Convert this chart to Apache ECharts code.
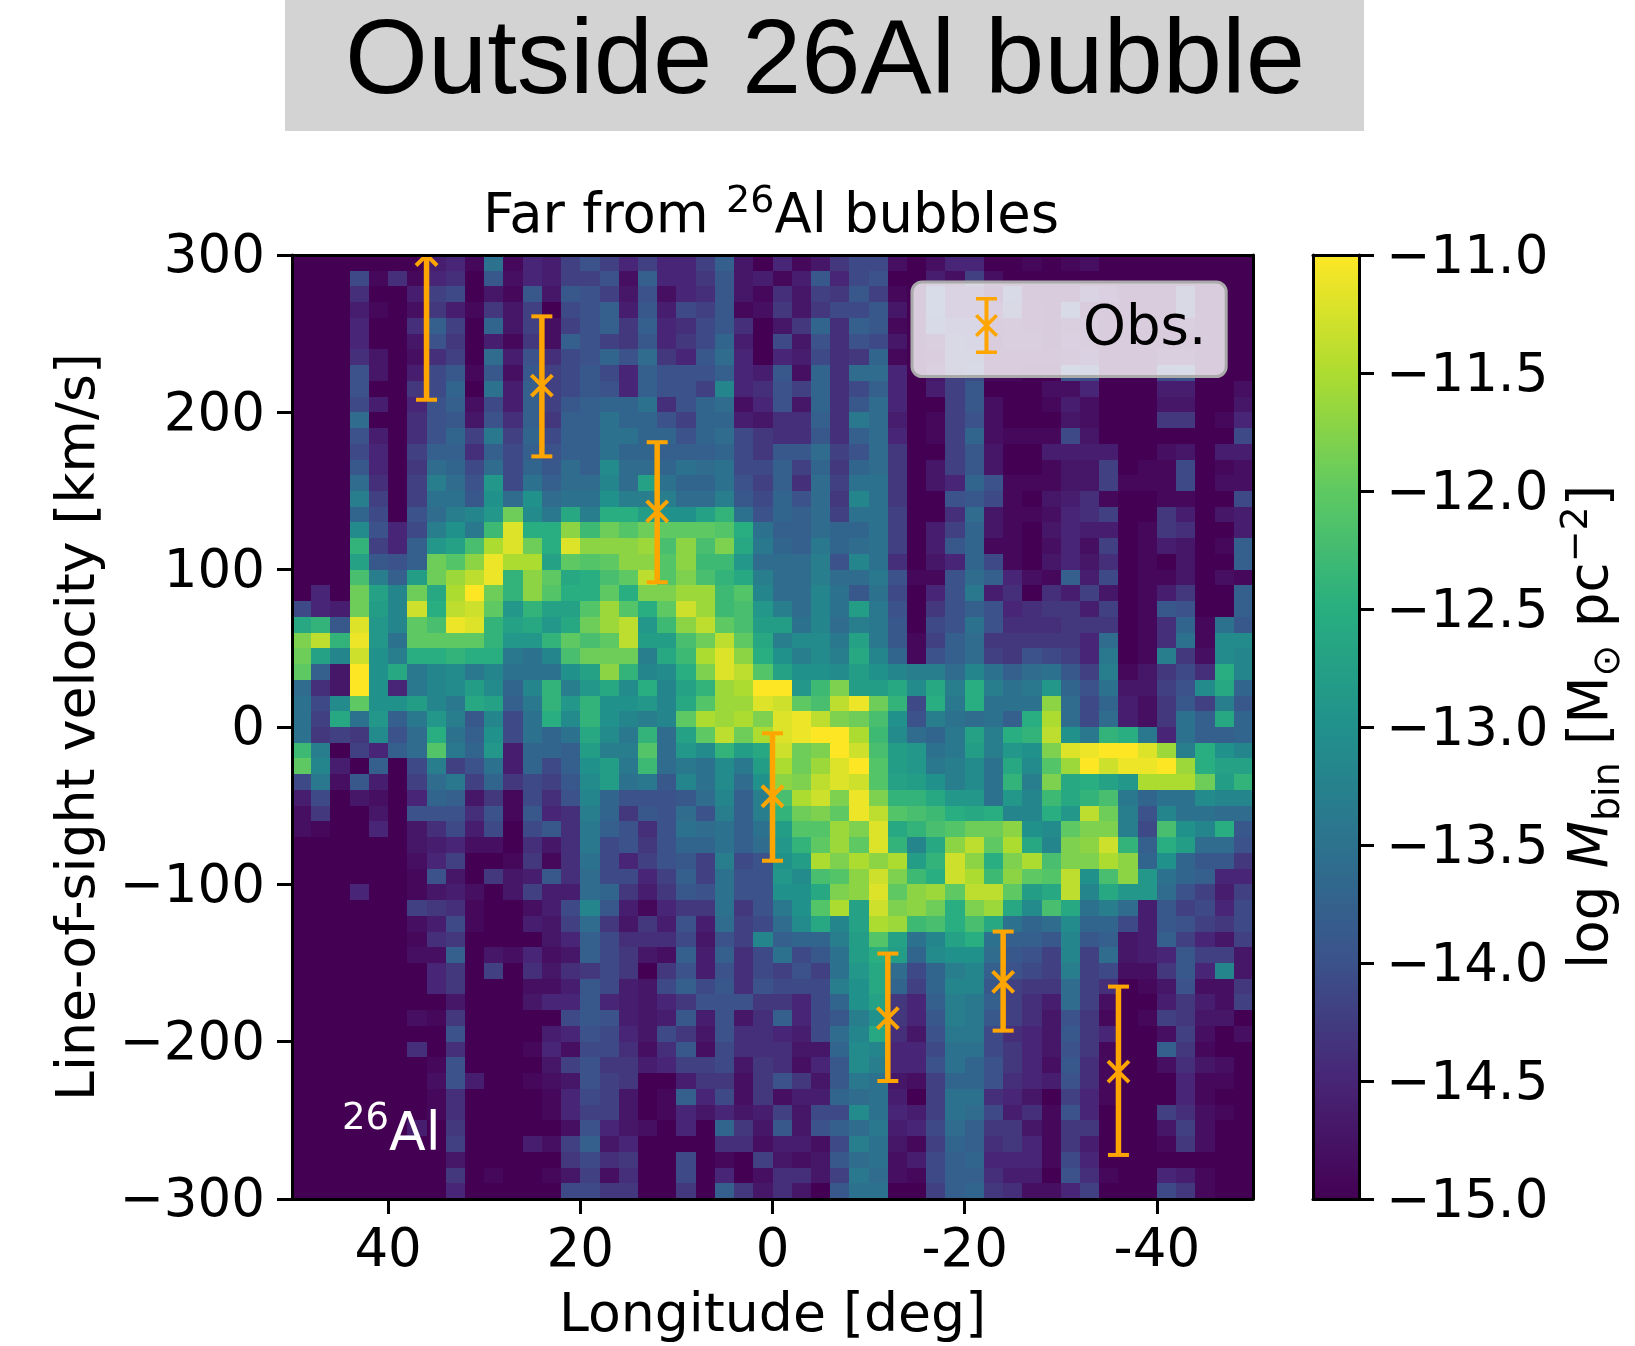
<!DOCTYPE html>
<html><head><meta charset="utf-8">
<style>html,body{margin:0;padding:0;background:#fff}#c{width:1635px;height:1346px}</style>
<script src="https://cdn.jsdelivr.net/npm/echarts@6/dist/echarts.min.js"></script>
</head><body><div id="c"></div>
<script>
// Cell values: tenths of a dex above the colour floor (-15). Rows run from +300 km/s down, columns from +50 deg to -50 deg.
const r00=[0,0,0,0,0,0,0,4,5,1,15,1,5,4,8,10,8,5,8,5,5,8,12,3,0,5,1,3,7,9,9,2,0,2,5,5,0,0,1,0,1,2,0,0,0,0,0,0,0,0];
const r01=[0,0,0,9,1,6,1,5,6,0,11,2,5,4,8,8,10,2,12,5,5,7,11,3,4,1,4,11,5,9,10,0,0,4,2,8,2,0,0,0,0,0,0,0,0,0,0,0,0,0];
const r02=[0,0,0,6,0,0,4,8,9,0,3,1,11,3,11,10,8,3,10,2,5,6,11,3,1,6,3,8,7,11,8,1,0,10,5,5,0,9,0,0,0,5,3,0,0,0,8,0,0,0];
const r03=[0,0,0,4,1,0,2,7,4,1,7,3,8,0,9,10,12,4,11,4,9,8,11,1,2,7,3,7,9,9,11,3,0,10,5,5,3,8,1,0,9,0,0,0,0,0,8,0,0,0];
const r04=[0,0,0,5,0,0,6,12,8,0,13,3,8,2,8,10,12,7,12,5,6,9,11,6,0,3,7,13,6,12,11,1,0,9,7,7,1,2,1,0,2,2,0,0,0,0,2,0,0,0];
const r05=[0,0,0,5,0,0,3,10,7,0,4,1,7,2,12,10,8,7,11,5,7,9,13,4,0,9,3,10,6,10,9,3,0,2,8,7,0,2,2,0,3,2,0,0,0,0,0,0,0,0];
const r06=[0,0,0,6,3,0,2,6,8,0,14,4,10,6,9,10,13,10,14,7,5,11,14,5,0,5,4,9,6,7,13,1,0,1,8,8,1,1,1,1,2,4,0,0,0,2,2,0,0,0];
const r07=[0,0,0,10,3,0,4,9,11,1,11,2,11,8,9,11,9,5,12,10,10,10,12,5,4,11,2,13,6,14,14,5,0,3,8,9,1,1,0,0,10,9,0,0,0,9,10,0,0,0];
const r08=[0,0,0,10,0,0,7,9,13,0,15,4,12,8,9,11,10,5,12,10,10,8,18,5,6,10,8,13,6,9,12,5,0,4,8,11,0,0,0,2,2,5,0,0,0,4,4,0,0,2];
const r09=[0,0,0,9,4,0,5,10,12,2,9,4,12,8,11,12,13,13,15,6,10,13,14,2,5,10,3,13,6,11,14,5,0,0,8,11,2,0,0,1,4,2,0,0,0,3,3,0,0,3];
const r10=[0,0,0,14,0,0,6,10,11,3,10,6,12,7,12,12,15,13,13,10,8,13,13,4,3,6,6,12,6,16,14,4,0,1,8,10,2,0,0,0,3,2,0,0,0,7,7,0,1,5];
const r11=[0,0,0,10,4,0,6,10,13,8,16,8,13,9,12,12,15,15,13,13,10,13,14,9,7,6,6,11,6,12,14,5,0,1,8,13,2,1,1,1,9,3,0,0,0,0,0,0,0,9];
const r12=[0,0,0,9,5,0,8,12,12,6,12,9,12,10,12,12,15,13,13,12,12,12,13,9,7,11,11,14,8,10,14,7,0,0,8,11,3,0,0,4,4,4,4,0,0,2,3,0,4,4];
const r13=[0,0,0,11,5,0,7,14,13,9,14,9,13,11,14,12,19,14,14,13,15,14,15,9,9,12,8,13,7,13,14,7,0,3,8,11,3,0,0,1,3,3,8,0,1,1,9,0,1,2];
const r14=[0,0,0,14,6,0,8,17,14,10,21,9,15,12,14,14,18,14,23,15,13,13,15,10,8,12,6,14,8,15,15,7,0,3,5,13,10,1,1,1,3,3,8,1,1,1,9,0,2,2];
const r15=[0,0,0,17,8,0,8,15,15,11,20,14,20,14,15,15,20,17,17,17,14,14,17,11,9,13,10,14,7,18,15,7,0,0,10,11,9,1,0,3,4,6,1,0,0,1,1,0,0,9];
const r16=[0,0,0,13,9,0,10,14,17,18,21,31,19,16,24,17,25,25,22,20,20,23,26,15,10,13,12,14,8,15,15,8,0,0,6,14,3,1,1,2,5,6,8,0,0,7,4,0,3,4];
const r17=[0,0,0,19,10,5,9,17,20,16,27,38,25,25,33,27,31,29,31,30,30,30,29,25,15,12,12,14,13,13,15,8,0,4,8,13,3,1,0,3,5,4,4,0,1,7,6,0,0,4];
const r18=[0,0,0,26,8,5,12,21,23,28,35,38,31,25,38,33,33,33,34,28,33,28,32,24,16,13,12,16,13,14,15,8,0,4,11,13,1,1,0,2,5,2,8,0,1,4,3,0,1,12];
const r19=[0,0,0,23,11,10,12,31,29,33,39,35,35,23,30,29,30,33,33,29,33,27,27,21,14,14,14,17,10,18,15,6,0,3,5,13,9,1,0,3,5,3,6,0,1,0,3,0,0,12];
const r20=[0,0,0,28,17,12,22,31,34,36,39,26,33,30,24,25,28,30,36,29,32,28,26,24,17,14,14,17,14,14,16,10,1,1,10,14,12,5,2,1,12,4,9,0,1,1,3,0,2,1];
const r21=[0,5,0,31,23,18,31,24,35,40,31,26,33,29,25,25,30,25,32,32,34,34,27,29,18,14,14,18,15,11,15,9,0,5,10,16,4,6,0,6,4,8,3,0,1,4,7,0,0,12];
const r22=[9,5,4,31,22,18,37,25,36,37,30,21,26,23,23,29,34,29,25,30,37,34,27,28,21,17,14,18,15,22,16,10,0,7,10,12,10,5,6,7,7,4,8,0,1,11,10,0,0,12];
const r23=[24,26,11,38,21,18,30,28,39,38,26,23,24,21,24,31,34,36,21,27,33,36,30,28,22,22,15,18,14,17,16,11,0,9,10,15,10,6,6,6,7,7,7,0,1,6,13,1,15,11];
const r24=[32,36,26,39,21,15,30,30,30,30,26,21,21,26,30,28,30,36,22,22,28,31,36,30,24,17,19,19,16,23,16,11,1,8,12,14,7,7,7,7,7,5,14,0,1,6,15,1,19,19];
const r25=[31,23,18,37,20,17,25,25,26,25,25,16,15,18,28,31,31,31,17,24,27,35,38,33,25,20,17,19,17,24,18,13,1,10,12,14,8,7,10,9,8,5,16,0,1,17,7,2,19,18];
const r26=[30,12,3,40,20,24,16,18,19,16,18,15,15,15,20,23,33,26,18,19,25,32,38,36,29,23,20,20,19,22,20,18,17,17,14,18,15,12,14,15,11,8,17,1,3,7,9,6,25,18];
const r27=[14,6,3,40,20,5,16,18,19,22,19,13,18,26,17,21,24,19,25,18,23,26,34,35,40,40,21,27,32,22,22,24,19,24,17,25,17,15,16,21,13,10,15,3,3,8,10,19,24,13];
const r28=[15,9,19,30,20,20,22,18,16,24,23,12,16,26,21,26,20,20,21,18,24,29,34,34,38,37,30,28,36,39,31,26,9,25,16,25,15,15,15,33,14,9,13,4,2,7,11,8,17,11];
const r29=[15,8,24,15,21,12,16,21,17,11,18,9,15,25,19,26,20,18,17,18,30,35,34,35,32,38,39,36,32,31,28,20,10,17,15,14,15,12,25,35,14,9,14,4,2,7,15,12,24,13];
const r30=[15,7,8,7,19,10,14,25,15,12,20,9,15,13,15,24,19,16,26,14,23,30,36,31,35,38,39,40,40,35,27,19,14,13,16,23,17,25,26,36,20,16,26,25,16,5,15,12,12,13];
const r31=[27,17,0,8,5,12,14,29,16,13,21,4,13,13,12,22,17,17,29,14,21,19,26,22,24,37,31,32,40,37,28,22,21,15,16,22,17,21,20,32,38,39,40,40,38,34,17,25,20,18];
const r32=[30,18,4,0,12,0,9,17,8,10,15,4,13,9,12,20,22,16,27,14,16,15,19,16,22,35,31,34,38,40,29,22,21,16,17,19,15,24,19,29,34,40,37,39,39,40,34,25,23,23];
const r33=[9,16,2,11,4,0,8,14,16,8,13,7,9,8,11,19,22,15,16,11,18,15,19,14,20,33,32,36,38,37,29,23,22,20,17,19,15,26,17,32,24,25,23,21,35,35,35,31,22,26];
const r34=[4,9,0,3,2,0,5,13,12,3,7,1,9,6,10,18,13,10,10,10,11,14,18,12,17,28,35,37,32,39,32,26,26,24,21,21,15,21,18,27,24,26,28,16,13,15,15,19,18,18];
const r35=[2,7,0,0,3,0,10,10,10,6,10,1,11,5,6,17,13,7,11,10,14,10,17,12,17,26,31,32,30,39,36,29,28,27,25,24,25,18,18,25,21,36,31,17,10,18,15,15,14,14];
const r36=[2,1,0,0,5,0,3,6,9,4,9,0,9,11,6,16,12,10,6,10,15,14,15,12,15,22,29,29,34,32,38,24,26,28,29,31,31,33,20,19,30,32,32,17,9,28,20,18,25,11];
const r37=[0,0,0,0,0,0,3,4,5,2,2,0,6,3,6,16,9,10,7,10,13,13,15,12,14,21,26,30,34,30,38,26,18,24,33,36,30,35,24,18,32,33,37,26,12,25,22,14,14,10];
const r38=[0,0,0,0,0,0,2,5,8,0,0,1,7,1,6,15,9,5,8,10,11,8,17,9,10,20,22,35,32,35,33,35,22,26,37,33,25,32,35,28,32,32,35,33,13,20,13,11,11,7];
const r39=[0,0,0,0,0,0,1,10,3,0,7,3,4,11,6,14,9,9,5,8,12,8,15,10,10,21,19,28,29,33,37,32,27,25,37,35,27,33,30,29,36,20,28,33,21,15,13,12,5,5];
const r40=[0,0,0,5,0,0,1,3,4,2,0,3,8,4,4,14,13,7,4,7,11,10,15,10,10,20,20,24,32,33,38,30,33,34,30,36,36,30,22,24,36,18,24,21,21,14,10,8,4,8];
const r41=[0,0,0,0,0,0,8,7,6,1,0,0,2,4,9,18,11,4,1,5,7,7,15,7,10,16,20,29,35,23,37,32,33,31,25,32,34,24,19,28,24,15,17,14,4,11,8,9,5,9];
const r42=[0,0,0,0,0,0,2,4,9,1,0,0,4,3,8,14,7,3,7,4,10,4,14,8,9,14,19,24,18,23,35,34,27,28,25,28,24,15,13,14,19,13,13,9,4,11,10,8,7,9];
const r43=[0,0,0,0,0,0,1,6,7,0,0,0,0,3,5,12,9,6,6,6,9,3,10,8,18,12,13,13,17,22,29,23,15,18,23,25,15,12,12,11,18,11,12,3,4,12,8,5,3,8];
const r44=[0,0,0,0,0,0,2,2,12,0,3,2,5,2,3,12,9,7,3,2,12,4,12,6,9,15,9,11,15,22,25,22,13,19,20,20,14,11,10,8,18,8,14,3,4,5,11,8,8,3];
const r45=[0,0,0,0,0,0,0,5,7,0,8,0,6,3,6,7,9,7,0,7,10,4,10,6,9,8,10,8,15,21,24,14,9,13,17,18,12,10,9,8,17,8,9,2,2,7,11,5,18,3];
const r46=[0,0,0,0,0,0,0,5,7,0,0,0,2,2,4,11,9,4,3,9,12,9,11,6,10,9,9,9,17,20,24,13,8,13,18,18,11,8,7,7,14,8,6,0,1,3,10,2,2,7];
const r47=[0,0,0,0,0,0,0,0,3,0,0,0,3,5,5,11,5,4,3,5,7,10,10,10,7,7,5,9,13,20,23,7,5,12,17,16,12,8,6,4,14,8,2,0,0,4,7,4,2,8];
const r48=[0,0,0,0,0,0,2,1,7,0,0,0,0,0,9,11,10,4,3,4,11,4,10,3,6,12,5,9,11,17,20,7,5,11,17,16,11,8,6,3,10,7,1,0,1,8,7,3,3,0];
const r49=[0,0,0,0,0,0,0,0,10,0,0,0,0,4,5,10,9,5,3,9,7,3,10,6,6,5,4,9,14,18,24,6,3,10,16,16,9,6,5,3,11,7,5,0,0,2,8,2,0,2];
const r50=[0,0,0,0,0,0,6,0,6,0,0,0,1,5,2,9,9,6,2,6,11,2,9,6,6,6,3,3,13,19,18,5,5,9,15,15,9,7,5,3,10,7,1,0,0,12,7,1,0,0];
const r51=[0,0,0,0,0,0,0,1,10,0,0,0,0,3,8,10,7,7,4,5,8,8,9,3,7,6,2,5,11,19,17,5,5,10,15,13,10,7,5,2,11,6,1,0,0,2,6,3,2,0];
const r52=[0,0,0,0,0,0,0,2,10,4,0,0,1,2,3,10,8,7,0,0,4,7,7,2,7,10,7,3,11,16,15,3,2,8,13,13,10,6,5,4,10,6,1,0,0,0,5,1,1,0];
const r53=[0,0,0,0,0,0,0,1,6,0,0,0,0,1,5,9,8,3,0,1,12,5,9,2,7,2,4,4,13,14,15,4,0,8,15,15,6,5,3,0,8,5,1,0,0,0,5,1,0,0];
const r54=[0,0,0,0,0,0,0,1,6,0,0,0,0,1,5,8,8,3,0,1,5,3,5,3,4,8,3,9,9,19,15,5,4,8,15,14,9,4,6,1,10,5,0,0,0,8,6,2,1,0];
const r55=[0,0,0,0,0,0,4,0,7,0,0,0,0,0,2,10,5,3,2,0,5,0,13,7,3,11,3,10,12,14,16,4,5,9,14,12,7,7,3,1,7,7,0,0,0,3,8,2,0,0];
const r56=[0,0,0,0,0,0,0,0,8,0,0,0,4,2,8,12,3,5,0,0,0,0,6,6,2,4,4,2,9,17,15,3,1,8,13,12,6,7,5,1,7,4,0,0,0,1,7,2,0,0];
const r57=[0,0,0,0,0,0,0,0,3,0,0,0,0,0,7,9,6,7,0,0,9,0,1,0,8,3,2,3,11,14,15,2,4,9,12,13,5,5,5,1,9,5,0,0,0,0,0,0,0,0];
const r58=[0,0,0,0,0,0,0,0,7,0,1,0,0,1,3,8,2,6,0,0,9,0,5,0,2,6,6,3,8,16,14,2,1,9,12,12,6,4,4,0,10,6,1,0,0,5,4,1,0,0];
const r59=[0,0,0,0,0,0,0,0,5,0,0,0,0,0,9,9,7,7,0,0,7,0,12,7,3,6,3,0,11,15,15,0,0,8,12,13,7,6,2,2,5,8,0,0,0,9,7,1,0,0];

const obsLon =[36,24,12,0,-12,-24,-36];
const obsMean=[300,217,137,-44,-185,-162,-219];
const obsLow =[208,172,92,-85,-225,-193,-272];
const obsHigh=[392,261,181,-4,-144,-130,-165];

const lonTicks=[40,20,0,-20,-40];
const viridis=['#440154','#482576','#3b528b','#2c728e','#21918c','#28ae80','#5ec962','#addc30','#fde725'];

const rows=[r00,r01,r02,r03,r04,r05,r06,r07,r08,r09,r10,r11,r12,r13,r14,r15,r16,r17,r18,r19,r20,r21,r22,r23,r24,r25,r26,r27,r28,r29,r30,r31,r32,r33,r34,r35,r36,r37,r38,r39,r40,r41,r42,r43,r44,r45,r46,r47,r48,r49,r50,r51,r52,r53,r54,r55,r56,r57,r58,r59];
const cells=[];
rows.forEach((row,j)=>row.forEach((lv,i)=>cells.push([49-2*i,295-10*j,-15+lv/10])));
const obsData=obsLon.map((l,i)=>[l,obsMean[i],obsLow[i],obsHigh[i]]);

const FONT='DejaVu Sans', FS=53, NFS=53.7, ORANGE='#ffa500';
const minus=v=>String(v).replace('-','\u2212');
const spine={show:true,onZero:false,lineStyle:{color:'#000',width:3}};
const tick={show:true,length:15,inside:false,lineStyle:{color:'#000',width:3}};
const lab={color:'#000',fontFamily:FONT,fontSize:FS};
const nm={color:'#000',fontFamily:FONT,fontSize:NFS,fontWeight:'normal'};

function cellItem(p,api){
  const lon=api.value(0),vel=api.value(1);
  const a=api.coord([lon+1,vel+5]),b=api.coord([lon-1,vel-5]);
  const x0=Math.round(a[0]),y0=Math.round(a[1]),x1=Math.round(b[0]),y1=Math.round(b[1]);
  return {type:'rect',shape:{x:x0,y:y0,width:x1-x0,height:y1-y0},style:{fill:api.visual('color')}};
}
function errItem(p,api){
  const lon=api.value(0),m=api.coord([lon,api.value(1)]),lo=api.coord([lon,api.value(2)]),hi=api.coord([lon,api.value(3)]);
  const x=m[0],cap=10.5,xs=10.5;
  const st=w=>({stroke:ORANGE,lineWidth:w,fill:null});
  return {type:'group',children:[
    {type:'line',shape:{x1:x,y1:lo[1],x2:x,y2:hi[1]},style:st(5.5)},
    {type:'line',shape:{x1:x-cap,y1:lo[1],x2:x+cap,y2:lo[1]},style:st(4)},
    {type:'line',shape:{x1:x-cap,y1:hi[1],x2:x+cap,y2:hi[1]},style:st(4)},
    {type:'line',shape:{x1:x-xs,y1:m[1]-xs,x2:x+xs,y2:m[1]+xs},style:st(4)},
    {type:'line',shape:{x1:x-xs,y1:m[1]+xs,x2:x+xs,y2:m[1]-xs},style:st(4)}
  ]};
}
const icon='path://M1 0H22V3.5H1ZM9.5 3.5H13.5V53.5H9.5ZM1 53.5H22V57H1ZM2.5 17L23 37.5L20.5 40L0 19.5ZM20.5 17L23 19.5L2.5 40L0 37.5Z';
const supRich={b:{fontFamily:FONT,fontSize:54.4,fontWeight:'normal',color:'#000',lineHeight:66,verticalAlign:'bottom'},s:{fontFamily:FONT,fontSize:38,fontWeight:'normal',color:'#000',lineHeight:66,verticalAlign:'top',padding:[4,0,0,0]}};

const option={
  animation:false,
  backgroundColor:'#fff',
  title:[
    {text:'Outside 26Al bubble',left:820,top:5,textAlign:'center',textStyle:{fontFamily:'Liberation Sans',fontSize:106.6,fontWeight:'normal',color:'#000'}},
    {text:'{b|Far from }{s|26}{b|Al bubbles}',left:766,top:174,textAlign:'center',textStyle:{fontWeight:'normal',rich:supRich}}
  ],
  graphic:[
    {type:'rect',z:-1,left:285,top:0,shape:{width:1079,height:131},style:{fill:'#d3d3d3'}},
    {type:'text',z:20,left:342,top:1097,style:{text:'{s|26}{b|Al}',fill:'#fff',rich:{
      b:{fontFamily:FONT,fontSize:NFS,fill:'#fff',lineHeight:66,verticalAlign:'bottom'},
      s:{fontFamily:FONT,fontSize:37,fill:'#fff',lineHeight:66,verticalAlign:'top',padding:[4,0,0,0]}}}}
  ],
  legend:{
    show:true,left:912,top:282,padding:[15,20,19,63],orient:'horizontal',
    data:[{name:'Obs.',icon:icon}],itemWidth:23,itemHeight:57,selectedMode:false,
    backgroundColor:'rgba(255,255,255,0.8)',borderColor:'#aaa',borderWidth:3,borderRadius:10,
    formatter:n=>'{a|'+n+'}',
    textStyle:{padding:[0,0,0,80],rich:{a:{fontFamily:FONT,fontSize:54.5,color:'#000',padding:[9,0,0,0]}}},z:15
  },
  grid:[
    {left:292,top:255,width:961,height:944,outerBoundsMode:'none'},
    {left:1313,top:255,width:46,height:944,outerBoundsMode:'none'}
  ],
  xAxis:[
    {type:'value',gridIndex:0,min:-50,max:50,inverse:true,position:'bottom',z:10,splitLine:{show:false},axisLine:spine,
     axisTick:Object.assign({},tick,{customValues:lonTicks}),
     axisLabel:Object.assign({},lab,{margin:27,customValues:lonTicks,showMinLabel:true,showMaxLabel:true}),
     name:'Longitude [deg]',nameLocation:'middle',nameGap:91,nameTextStyle:nm},
    {type:'value',gridIndex:0,min:-50,max:50,inverse:true,position:'top',z:10,splitLine:{show:false},axisLine:spine,axisTick:{show:false},axisLabel:{show:false}},
    {type:'value',gridIndex:1,min:0,max:1,position:'bottom',z:10,splitLine:{show:false},axisLine:spine,axisTick:{show:false},axisLabel:{show:false}},
    {type:'value',gridIndex:1,min:0,max:1,position:'top',z:10,splitLine:{show:false},axisLine:spine,axisTick:{show:false},axisLabel:{show:false}}
  ],
  yAxis:[
    {type:'value',gridIndex:0,min:-300,max:300,interval:100,position:'left',z:10,splitLine:{show:false},axisLine:spine,axisTick:tick,
     axisLabel:{margin:27,formatter:v=>'{a|'+minus(v)+'}',showMinLabel:true,showMaxLabel:true,rich:{a:Object.assign({},lab,{padding:[7,0,0,0]})}},
     name:'Line-of-sight velocity [km/s]',nameLocation:'middle',nameGap:185,nameRotate:90,nameTextStyle:nm},
    {type:'value',gridIndex:0,min:-300,max:300,position:'right',z:10,splitLine:{show:false},axisLine:spine,axisTick:{show:false},axisLabel:{show:false}},
    {type:'value',gridIndex:1,min:-15,max:-11,interval:0.5,position:'right',z:10,splitLine:{show:false},axisLine:spine,axisTick:tick,
     axisLabel:{margin:27,formatter:v=>'{a|'+minus(v.toFixed(1))+'}',showMinLabel:true,showMaxLabel:true,rich:{a:Object.assign({},lab,{padding:[9,0,0,0]})}},
     name:'{b|log }{i|M}{d|bin}{b| [M}{d|\u2299}{b| pc}{u|\u22122}{b|]}',nameLocation:'middle',nameGap:199,nameRotate:90,
     nameTextStyle:{rich:{
       b:{fontFamily:FONT,fontSize:54.7,color:'#000',lineHeight:70,verticalAlign:'middle'},
       i:{fontFamily:FONT,fontStyle:'italic',fontSize:54.7,color:'#000',lineHeight:70,verticalAlign:'middle'},
       d:{fontFamily:FONT,fontSize:38,color:'#000',lineHeight:70,verticalAlign:'bottom'},
       u:{fontFamily:FONT,fontSize:38,color:'#000',lineHeight:70,verticalAlign:'top'}}}},
    {type:'value',gridIndex:1,min:-15,max:-11,position:'left',z:10,splitLine:{show:false},axisLine:spine,axisTick:{show:false},axisLabel:{show:false}}
  ],
  visualMap:{
    type:'continuous',min:-15,max:-11,seriesIndex:0,dimension:2,calculable:false,realtime:false,
    left:1313,top:255,itemWidth:46,itemHeight:944,padding:0,text:null,showLabel:false,
    inRange:{color:viridis},textStyle:{fontSize:0}
  },
  series:[
    {name:'mass',type:'custom',coordinateSystem:'cartesian2d',xAxisIndex:0,yAxisIndex:0,clip:true,silent:true,encode:{x:0,y:1},data:cells,renderItem:cellItem},
    {name:'Obs.',type:'custom',coordinateSystem:'cartesian2d',xAxisIndex:0,yAxisIndex:0,clip:true,silent:true,z:5,encode:{x:0,y:1},itemStyle:{color:ORANGE},data:obsData,renderItem:errItem}
  ]
};
echarts.init(document.getElementById('c'),null,{renderer:'canvas'}).setOption(option);
</script></body></html>
